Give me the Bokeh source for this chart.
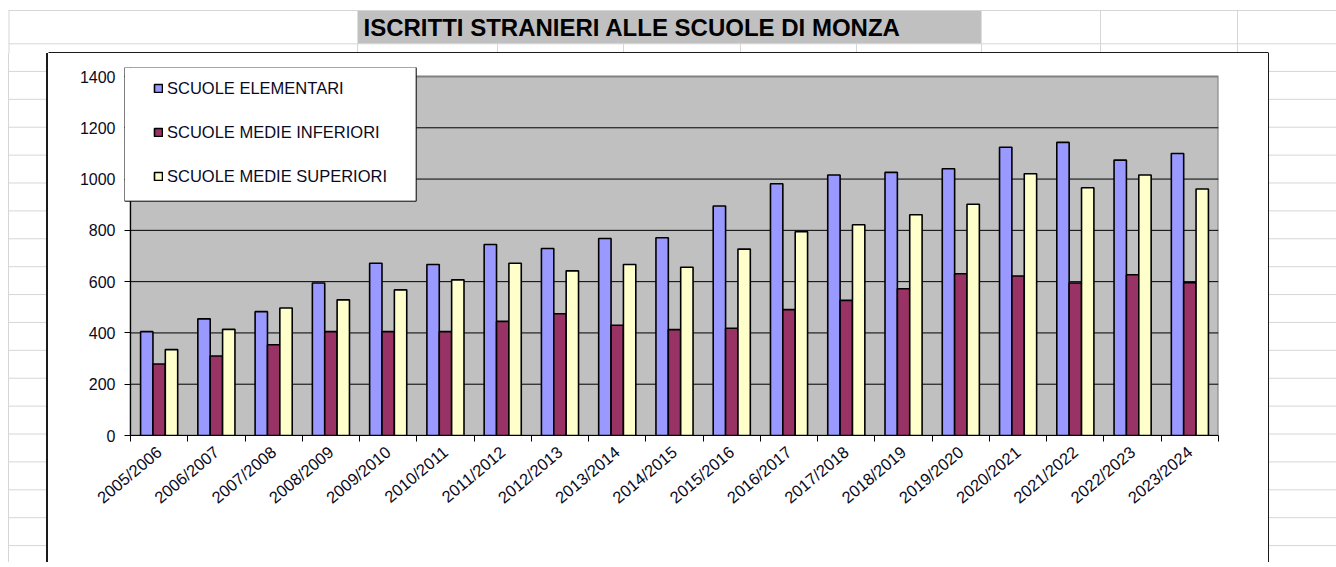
import math
from bokeh.plotting import figure
from bokeh.layouts import column, row
from bokeh.models import (ColumnDataSource, FixedTicker, Legend, LegendItem,
                          BoxAnnotation, Span, Range1d, Div)
from bokeh.transform import dodge
from bokeh.core.properties import value
from bokeh.embed import file_html
from bokeh.resources import INLINE

# ---------------- data ----------------
years = ["2005/2006", "2006/2007", "2007/2008", "2008/2009", "2009/2010",
         "2010/2011", "2011/2012", "2012/2013", "2013/2014", "2014/2015",
         "2015/2016", "2016/2017", "2017/2018", "2018/2019", "2019/2020",
         "2020/2021", "2021/2022", "2022/2023", "2023/2024"]
elementari = [405, 455, 483, 595, 672, 667, 745, 729, 768, 771,
              895, 982, 1016, 1026, 1040, 1124, 1143, 1074, 1100]
medie_inferiori = [279, 310, 354, 405, 405, 405, 445, 475, 430, 413,
                   418, 491, 527, 572, 631, 622, 595, 627, 596]
medie_superiori = [335, 414, 497, 529, 568, 607, 672, 642, 667, 656,
                   727, 795, 822, 861, 902, 1021, 966, 1016, 961]
series_names = ["SCUOLE ELEMENTARI", "SCUOLE MEDIE INFERIORI", "SCUOLE MEDIE SUPERIORI"]
y_ticks = [0, 200, 400, 600, 800, 1000, 1200, 1400]
title_text = "ISCRITTI STRANIERI ALLE SCUOLE DI MONZA"

# ---------------- styling ----------------
FONT = "Liberation Sans"
TXT = "#0a0a1e"
C_EL, C_INF, C_SUP = "#9999ff", "#993366", "#ffffcc"
SHEET = "#d6d6d6"
BORDER = "#1a1a1a"

W, H = 1336, 562          # whole page area used
TOP_H = 53                # spreadsheet title row band
BOX_L, BOX_R = 48, 1268   # chart object edges
MID_H = H - TOP_H
ROW0 = 71 - TOP_H         # first spreadsheet row line inside the strips
ROW_H = 27.9


def seg(f, x0, y0, x1, y1, color=SHEET, lw=1):
    f.segment(x0=[x0], y0=[y0], x1=[x1], y1=[y1], line_color=color, line_width=lw)


# ---- top band: spreadsheet row with the title cell ----
top = figure(width=W, height=TOP_H, x_range=Range1d(0, W), y_range=Range1d(TOP_H, 0),
             x_axis_type=None, y_axis_type=None, toolbar_location=None,
             output_backend="svg", title=None, min_border=0,
             outline_line_color=None, background_fill_color="white",
             border_fill_color="white")
top.xgrid.visible = False
top.ygrid.visible = False
top.quad(left=[357], right=[981], top=[10], bottom=[43.3], fill_color="#c0c0c0",
         line_color=None)
seg(top, 8, 10, W, 10)
seg(top, 8, 43.3, W, 43.3)
seg(top, 8.5, 10, 8.5, TOP_H)
for x in [1100, 1237]:
    seg(top, x, 10, x, TOP_H)
for x in [357, 497, 623, 740, 856, 981]:
    seg(top, x, 43.3, x, TOP_H)
seg(top, BOX_L, TOP_H - 0.75, BOX_R, TOP_H - 0.75, color=BORDER, lw=1.5)
top.text(x=[363], y=[27.2], text=[title_text], text_font=value(FONT),
         text_font_style="bold", text_font_size="24px", text_color="black",
         text_baseline="middle", text_align="left")

# ---- side strips of the spreadsheet (cell grid as a background) ----
rows_bg = ("linear-gradient(to bottom, transparent {a}px, {c} {a}px, {c} {b}px, "
           "transparent {b}px)").format(a=ROW0 - 0.5, b=ROW0 + 0.5, c=SHEET)
left_bg = ", ".join([
    f"linear-gradient(to right, transparent {BOX_L - 1.5}px, {BORDER} {BOX_L - 1.5}px) 0 0 / 100% 100% no-repeat",
    f"linear-gradient(to right, transparent 8px, {SHEET} 8px, {SHEET} 9px, transparent 9px) 0 0 / 100% 100% no-repeat",
    f"{rows_bg} 8px 0 / {BOX_L - 8}px {ROW_H}px repeat-y",
    "white",
])
right_bg = ", ".join([
    f"linear-gradient(to right, {BORDER} 1.5px, transparent 1.5px) 0 0 / 100% 100% no-repeat",
    f"{rows_bg} 0 0 / 100% {ROW_H}px repeat-y",
    "white",
])
left = Div(text="", width=BOX_L, height=MID_H, margin=0, styles={"background": left_bg})
right = Div(text="", width=W - BOX_R, height=MID_H, margin=0, styles={"background": right_bg})

# ---- main chart ----
n = len(years)
centers = [i + 0.5 for i in range(n)]
bounds = [float(i) for i in range(n + 1)]
src = ColumnDataSource(dict(x=centers, el=elementari, inf=medie_inferiori,
                            sup=medie_superiori, year=years))

FL, FT, FR, FB = 124, 67, 1218, 435     # frame edges (page px)
AX = 130                                # position of the value axis (page px)
CW = BOX_R - BOX_L
px_per_cat = (FR - AX) / n
x0 = -(AX - FL) / px_per_cat
y1 = y_ticks[-1] * (FB - FT) / (FB - 76)

p = figure(width=CW, height=MID_H, x_range=Range1d(x0, n), y_range=Range1d(0, y1),
           output_backend="svg", toolbar_location=None, title=None,
           min_border_left=FL - BOX_L, min_border_right=BOX_R - FR,
           min_border_top=FT - TOP_H, min_border_bottom=H - FB,
           background_fill_color="white", border_fill_color="white",
           outline_line_color=None)

# plot area (gray wall) and its gridlines
p.quad(left=[0], right=[n], bottom=[y_ticks[0]], top=[y_ticks[-1]],
       fill_color="#c0c0c0", line_color="#808080", line_width=2, level="underlay")
gy = y_ticks[1:-1]
p.segment(x0=[0] * len(gy), x1=[n] * len(gy), y0=gy, y1=gy,
          line_color="black", line_width=1, level="underlay")

bw = 0.216
r1 = p.vbar(x=dodge("x", -bw, range=p.x_range), top="el", width=bw, source=src,
            fill_color=C_EL, line_color="black", line_width=1.6)
r2 = p.vbar(x="x", top="inf", width=bw, source=src,
            fill_color=C_INF, line_color="black", line_width=1.6)
r3 = p.vbar(x=dodge("x", bw, range=p.x_range), top="sup", width=bw, source=src,
            fill_color=C_SUP, line_color="black", line_width=1.6)

p.xgrid.visible = False
p.ygrid.visible = False

xa = p.xaxis[0]
xa.ticker = FixedTicker(ticks=centers, minor_ticks=bounds)
xa.major_label_overrides = {c: y for c, y in zip(centers, years)}
xa.bounds = (0, n)
xa.major_tick_in = 0
xa.major_tick_out = 0
xa.minor_tick_in = 0
xa.minor_tick_out = 6
xa.minor_tick_line_color = "black"
xa.axis_line_color = "black"
xa.major_label_orientation = math.radians(40)
xa.major_label_standoff = 8
xa.major_label_text_font = FONT
xa.major_label_text_font_size = "16.5px"
xa.major_label_text_color = TXT

ya = p.yaxis[0]
ya.ticker = FixedTicker(ticks=y_ticks, minor_ticks=[])
ya.bounds = (y_ticks[0], y_ticks[-1])
ya.axis_line_alpha = 0
ya.major_tick_in = AX - FL
ya.major_tick_out = 0
ya.major_tick_line_color = "black"
ya.major_label_standoff = 9
ya.major_label_text_font = FONT
ya.major_label_text_font_size = "16px"
ya.major_label_text_color = TXT

# value-axis line at the left edge of the wall
p.add_layout(Span(location=0, dimension="height", line_color="black", line_width=1))

# legend box + legend
p.add_layout(BoxAnnotation(left=124 - BOX_L, right=415.7 - BOX_L,
                           top=66.7 - TOP_H, bottom=200.7 - TOP_H,
                           left_units="canvas", right_units="canvas",
                           top_units="canvas", bottom_units="canvas",
                           fill_color="white", fill_alpha=1,
                           line_color="black", line_width=1, line_alpha=1))
legend = Legend(items=[LegendItem(label=series_names[0], renderers=[r1]),
                       LegendItem(label=series_names[1], renderers=[r2]),
                       LegendItem(label=series_names[2], renderers=[r3])],
                location=(round(152.7 - FL), round(FB - 185.7)), padding=0,
                spacing=24, label_height=20, glyph_width=10, glyph_height=10,
                label_standoff=4,
                label_text_font=FONT, label_text_font_size="16.5px",
                label_text_color=TXT,
                border_line_alpha=0, background_fill_alpha=0)
p.add_layout(legend)

page = column(top, row(left, p, right))
open("out.html", "w").write(file_html(page, INLINE))
